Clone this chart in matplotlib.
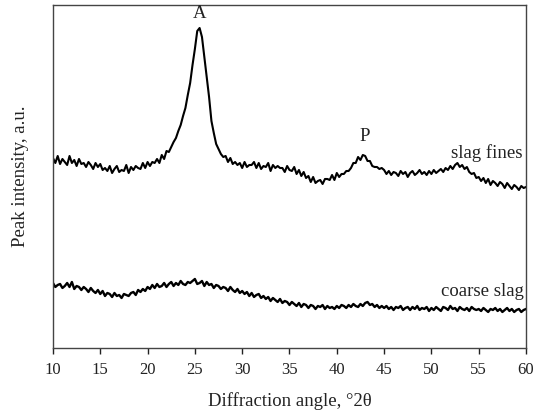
import matplotlib
matplotlib.use('Agg')
import matplotlib.pyplot as plt
import numpy as np

# diffraction angle, degrees 2-theta (step 0.25)
angle = np.arange(0, 201) * 0.25 + 10

# slag fines (a.u.)
fines = [
    190, 185, 192, 184, 189, 186, 183, 192, 185, 188, 182, 189, 184, 185, 181, 186, 183, 179, 185, 181,
    184, 178, 180, 177, 182, 175, 179, 182, 176, 178, 177, 183, 175, 181, 178, 182, 180, 179, 185, 180,
    186, 182, 186, 185, 189, 185, 193, 189, 197, 196, 201, 206, 210, 217, 223, 232, 240, 253, 265, 283,
    299, 317, 320, 311, 291, 271, 251, 227, 215, 204, 199, 194, 191, 192, 186, 190, 184, 186, 183, 185,
    180, 186, 181, 183, 183, 186, 180, 185, 179, 182, 181, 185, 177, 183, 180, 182, 180, 180, 176, 182,
    178, 177, 181, 174, 178, 172, 176, 170, 172, 166, 171, 165, 167, 168, 164, 169, 169, 168, 173, 168,
    175, 171, 174, 174, 177, 177, 180, 185, 185, 191, 188, 193, 192, 187, 187, 182, 181, 181, 179, 180,
    178, 174, 177, 173, 176, 175, 172, 177, 174, 176, 171, 175, 177, 173, 175, 178, 174, 176, 173, 177,
    174, 178, 175, 177, 179, 176, 180, 178, 182, 179, 183, 185, 181, 183, 179, 181, 176, 174, 175, 170,
    171, 167, 170, 165, 169, 163, 167, 165, 162, 166, 164, 160, 165, 162, 159, 163, 161, 158, 162, 160, 161,
]

# coarse slag
coarse = [
    65, 61, 63, 64, 60, 62, 65, 61, 66, 59, 62, 61, 58, 61, 59, 56, 60, 57, 55, 58,
    54, 57, 52, 55, 54, 51, 55, 52, 53, 50, 54, 53, 52, 55, 56, 53, 58, 56, 59, 57,
    61, 59, 63, 60, 64, 61, 62, 65, 61, 64, 66, 62, 65, 63, 67, 64, 63, 66, 65, 67,
    69, 64, 65, 67, 62, 66, 63, 64, 60, 63, 62, 59, 61, 60, 57, 61, 58, 56, 59, 55,
    57, 54, 56, 52, 55, 51, 53, 54, 50, 52, 49, 51, 47, 50, 48, 46, 49, 45, 47, 46,
    43, 46, 44, 42, 45, 41, 44, 43, 40, 43, 42, 39, 42, 41, 43, 39, 42, 40, 41, 39,
    42, 40, 43, 42, 40, 43, 41, 44, 42, 41, 44, 42, 45, 46, 43, 44, 41, 43, 40, 42,
    40, 42, 39, 41, 38, 41, 40, 42, 38, 40, 41, 38, 41, 39, 42, 38, 40, 39, 41, 37,
    40, 38, 41, 39, 37, 41, 40, 38, 42, 39, 40, 37, 41, 39, 38, 40, 37, 41, 39, 38,
    39, 37, 40, 38, 36, 39, 38, 40, 37, 39, 36, 38, 40, 37, 39, 36, 38, 39, 36, 38, 39,
]

xticks = [10, 15, 20, 25, 30, 35, 40, 45, 50, 55, 60]

plt.rcParams['font.family'] = ['Liberation Serif', 'DejaVu Serif']

fig = plt.figure(figsize=(5.35, 4.17), dpi=100)
ax = fig.add_axes([0.099, 0.1655, 0.8842, 0.8225])

ax.plot(angle, fines, color='black', lw=1.5)
ax.plot(angle, coarse, color='black', lw=1.7)

ax.set_xlim(10, 60)
ax.set_ylim(0, 343)
ax.set_xticks(xticks)
ax.set_yticks([])
ax.tick_params(axis='x', direction='out', length=4, width=1, labelsize=12, pad=6, colors='#222222')

for s in ax.spines.values():
    s.set_color('#444444')
    s.set_linewidth(1)

ax.set_xlabel('Diffraction angle, °2θ', fontsize=13.5, labelpad=10, color='#222222')
ax.set_ylabel('Peak intensity, a.u.', fontsize=13.5, labelpad=17, color='#222222')

# annotations
ax.text(25.5, 326, 'A', ha='center', va='bottom', fontsize=13.5, color='#222222')
ax.text(42.9, 203, 'P', ha='center', va='bottom', fontsize=13.5, color='#222222')
ax.text(59.6, 195, 'slag fines', ha='right', va='center', fontsize=13.5, color='#222222')
ax.text(59.8, 56, 'coarse slag', ha='right', va='center', fontsize=13.5, color='#222222')

fig.savefig('out.png', dpi=100)
